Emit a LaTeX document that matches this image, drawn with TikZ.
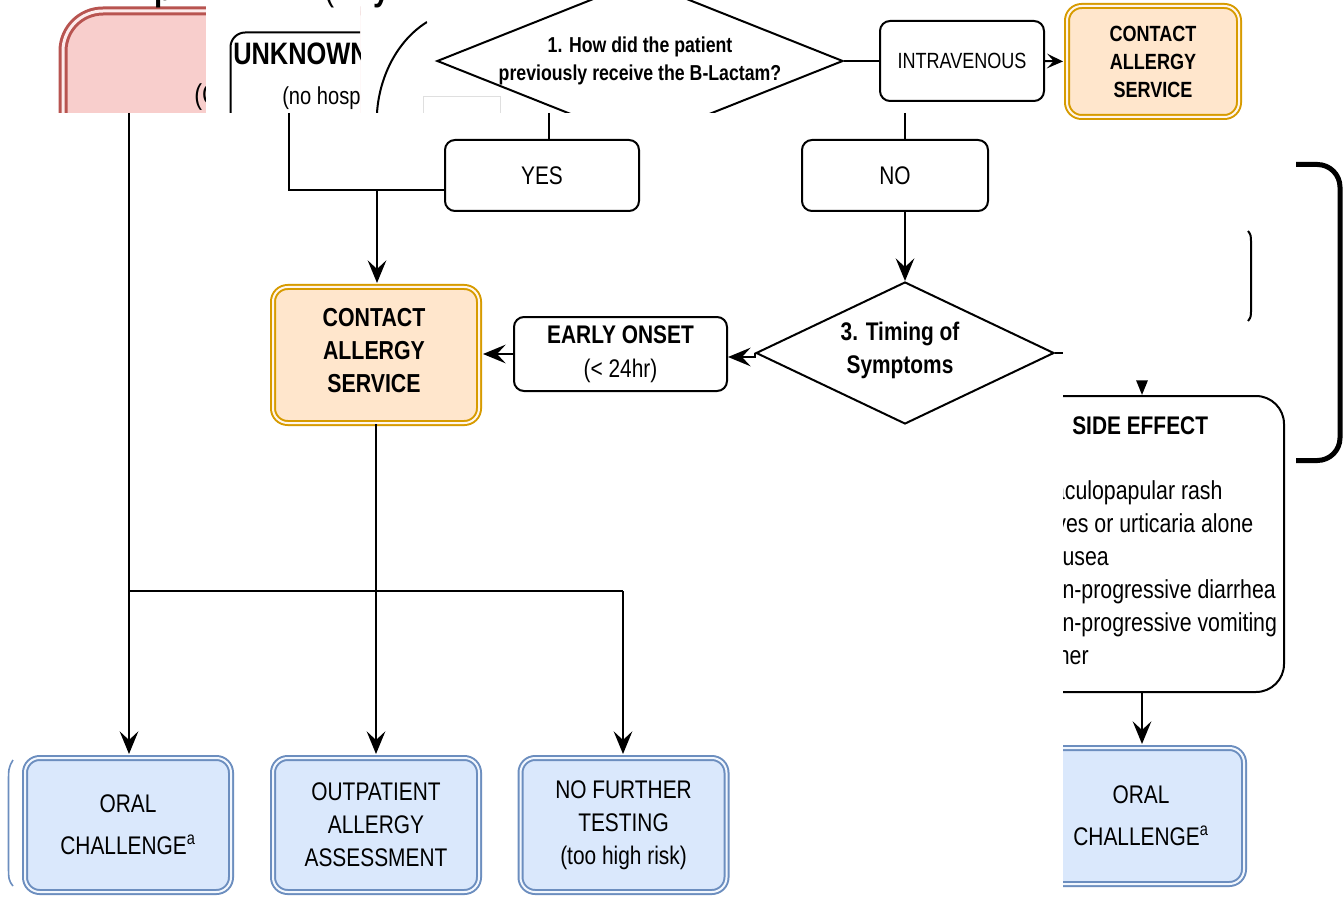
\documentclass[tikz,border=0pt]{standalone}
\usepackage{fontspec}
\setmainfont{Liberation Sans}[FakeStretch=0.82]
\usetikzlibrary{arrows.meta,shapes.geometric}
\definecolor{orfill}{HTML}{FFE6CC}
\definecolor{orline}{HTML}{D79B00}
\definecolor{blfill}{HTML}{DAE8FC}
\definecolor{blline}{HTML}{6C8EBF}
\definecolor{pkfill}{HTML}{F8CECC}
\definecolor{pkline}{HTML}{B85450}
\newcommand\fsz[2]{\fontsize{#1}{#2}\selectfont}
\tikzset{
 txt/.style={inner sep=0pt},
 plain/.style={draw=black, line width=1.5pt, fill=white, rounded corners=7.5pt, inner sep=0pt, align=center},
 orbox/.style={draw=orline, double=orfill!35!white, double distance=1.5pt, line width=1.5pt, fill=orfill, rounded corners=11pt, inner sep=0pt, align=center},
 blbox/.style={draw=blline, double=blfill!35!white, double distance=1.5pt, line width=1.5pt, fill=blfill, rounded corners=11pt, inner sep=0pt, align=center, font=\fsz{19.1pt}{24.75pt}},
 pkbox/.style={draw=pkline, double=pkfill!40!white, double distance=2.25pt, line width=2.25pt, fill=pkfill, rounded corners=30pt, inner sep=0pt},
 conn/.style={line width=1.5pt, draw=black},
 arr/.style={conn, -{Stealth[length=17pt,width=14pt,inset=6.5pt]}},
 sarr/.style={conn, -{Stealth[length=12pt,width=11pt,inset=5pt]}},
 dia/.style={diamond, draw=black, line width=1.5pt, fill=white, inner sep=0pt},
}
\begin{document}
\begin{tikzpicture}[x=0.75pt,y=-0.75pt]
\useasboundingbox (0,0) rectangle (1344,898);
\fill[white] (0,0) rectangle (1344,898);

% ---------- top-left strip ----------
\begin{scope}
\clip (0,0) rectangle (360,113);
\node[pkbox, anchor=north west, minimum width=328.5pt, minimum height=220pt] (pk) at (61.5,9.5) {};
\node[txt, anchor=base west, font=\fsz{21.5pt}{26pt}] (pkt) at (194,105) {(C};
\end{scope}
\fill[white] (206,6.5) rectangle (360,113);
\begin{scope}
\clip (206,6.5) rectangle (360,113);
\node[plain, rounded corners=11pt, anchor=north west, minimum width=300pt, minimum height=200pt] (unk) at (229.5,31.5) {};
\node[txt, anchor=base west, font=\bfseries\fsz{23.25pt}{28pt}] (unkt) at (233,65) {UNKNOWN};
\node[txt, anchor=base west, font=\fsz{18.4pt}{22pt}] (unks) at (282,105) {(no hosp};
\end{scope}
\begin{scope}
\clip (360,0) rectangle (427,113);
\draw[conn] (427,22) .. controls (395,42) and (379,80) .. (377,113);
\end{scope}

% ---------- question 1 ----------
\begin{scope}
\clip (427,-5) rectangle (1063,113);
\node[dia, minimum width=304.5pt, minimum height=121.5pt] (d1) at (640,61) {};
\end{scope}
\node[align=center, font=\bfseries\fsz{16.2pt}{21pt}] (d1t) at (640,61) {1. How did the patient\\previously receive the B-Lactam?};
\draw[gray!25, fill=white] (423.5,96.5) -- (500,96.5) -- (500,113) (423.5,113) -- (423.5,96.5);

\node[plain, minimum width=123pt, minimum height=60pt, font=\fsz{16.5pt}{20pt}] (iv) at (962,61) {INTRAVENOUS};
\node[orbox, font=\bfseries\fsz{16.5pt}{21pt}, minimum width=129pt, minimum height=83.25pt] (cas1) at (1153,61.5) {CONTACT\\ALLERGY\\SERVICE};
\draw[conn] (d1.east) -- (iv.west);
\draw[sarr, shorten >=2.25pt] (iv.east) -- (cas1.west);

% ---------- YES / NO ----------
\node[plain, minimum width=145.5pt, minimum height=53.25pt, font=\fsz{19.1pt}{24pt}] (yes) at (542,175.5) {YES};
\node[plain, minimum width=139.5pt, minimum height=53.25pt, font=\fsz{19.1pt}{24pt}] (no) at (895,175.5) {NO};
\coordinate (c549) at (549,113);
\coordinate (c905) at (905,113);
\coordinate (c289) at (289,113);
\coordinate (j1) at (289,190.5);
\coordinate (j2) at (377,190.5);
\draw[conn] (c549) -- (c549 |- yes.north);
\draw[conn] (c905) -- (c905 |- no.north);
\draw[conn] (c289) -- (j1) -- (j1 -| yes.west);

% ---------- middle ----------
\node[orbox, minimum width=154.5pt, minimum height=102pt] (cas2) at (376,355) {};
\node[align=center, font=\bfseries\fsz{19.5pt}{24.75pt}] (cas2t) at (374,351) {CONTACT\\ALLERGY\\SERVICE};
\draw[arr, shorten >=2.25pt] (j2) -- (j2 |- cas2.north);

\node[dia, minimum width=223.5pt, minimum height=106.5pt] (d3) at (905,353) {};
\node[align=center, font=\bfseries\fsz{19.1pt}{24.75pt}] (d3t) at (900,350) {3. Timing of\\Symptoms};
\draw[arr] (c905 |- no.south) -- (d3.north);

\node[plain, minimum width=159.75pt, minimum height=55.5pt, font=\fsz{19.1pt}{25.5pt}] (early) at (620.5,354) {\textbf{EARLY ONSET}\\(< 24hr)};
\coordinate (ej) at (740,357);
\draw[arr] (d3.west) -- ++(0,4) -- (early.east |- ej);
\draw[arr, shorten >=2.25pt] (early.west) -- (early.west -| cas2.east);

% ---------- bottom ----------
\node[blbox, minimum width=154.5pt, minimum height=100.5pt] (oral1) at (128,825) {ORAL\\[6.75pt]CHALLENGE\textsuperscript{a}};
\node[blbox, minimum width=154.5pt, minimum height=100.5pt] (outp) at (376,825) {OUTPATIENT\\ALLERGY\\ASSESSMENT};
\node[blbox, minimum width=154.5pt, minimum height=100.5pt] (nft) at (623.5,825) {NO FURTHER\\TESTING\\(too high risk)};
\draw[blline, line width=1.2pt] (13,760) .. controls (8.5,768) .. (8.5,785) -- (8.5,862) .. controls (8.5,880) .. (13,886);

\coordinate (c129) at (129,113);
\coordinate (j3) at (129,591);
\coordinate (j4) at (623,591);
\draw[arr, shorten >=2.25pt] (c129) -- (c129 |- oral1.north);
\draw[conn] (j3) -- (j4);
\draw[arr, shorten >=2.25pt] (j4) -- (j4 |- nft.north);
\draw[arr, shorten >=2.25pt] (cas2.south) -- (outp.north);

% ---------- right panel ----------
\coordinate (r1) at (1063,353);
\draw[conn] (d3.east) -- (r1);
\begin{scope}
\clip (1063,130) rectangle (1344,898);
\node[plain, rounded corners=21pt, minimum width=213pt, minimum height=222pt] (side) at (1142,544) {};
\node[txt, anchor=base west, font=\bfseries\fsz{19.1pt}{24pt}] (sidet) at (1072,434) {SIDE EFFECT};
\node[txt, anchor=base west, font=\fsz{19.5pt}{24pt}] (l1) at (1035,499) {Maculopapular rash};
\node[txt, anchor=base west, font=\fsz{19.5pt}{24pt}] (l2) at (1035,532) {Hives or urticaria alone};
\node[txt, anchor=base west, font=\fsz{19.5pt}{24pt}] (l3) at (1035,565) {Nausea};
\node[txt, anchor=base west, font=\fsz{19.5pt}{24pt}] (l4) at (1035,598) {Non-progressive diarrhea};
\node[txt, anchor=base west, font=\fsz{19.5pt}{24pt}] (l5) at (1035,631) {Non-progressive vomiting};
\node[txt, anchor=base west, font=\fsz{19.5pt}{24pt}] (l6) at (1035,664) {Other};
\node[blbox, minimum width=154.5pt, minimum height=102pt] (oral2) at (1141,816) {ORAL\\[6.75pt]CHALLENGE\textsuperscript{a}};
\draw[arr, shorten >=2.25pt] (side.south) -- (side.south |- oral2.north);
\coordinate (sa) at (1142,381);
\draw[conn, -{Triangle[length=11pt,width=8.5pt]}] (sa) -- (side.north);
\draw[line width=3.75pt, rounded corners=17pt] (1296,164.5) -- (1340,164.5) -- (1340,460.5) -- (1296,460.5);
\draw[line width=1.5pt] (1248,231) .. controls (1251,235) .. (1251,245) -- (1251,308) .. controls (1251,317) .. (1248,321);
\end{scope}

% ---------- title fragments ----------
\node[txt, anchor=base west, font=\bfseries\fsz{27pt}{27pt}] (tf1) at (154,1) {p};
\node[txt, anchor=base west, font=\fsz{27pt}{27pt}] (tf2) at (324,1) {(};
\node[txt, anchor=base west, font=\bfseries\fsz{27pt}{27pt}] (tf3) at (373,1) {y};
\end{tikzpicture}
\end{document}
